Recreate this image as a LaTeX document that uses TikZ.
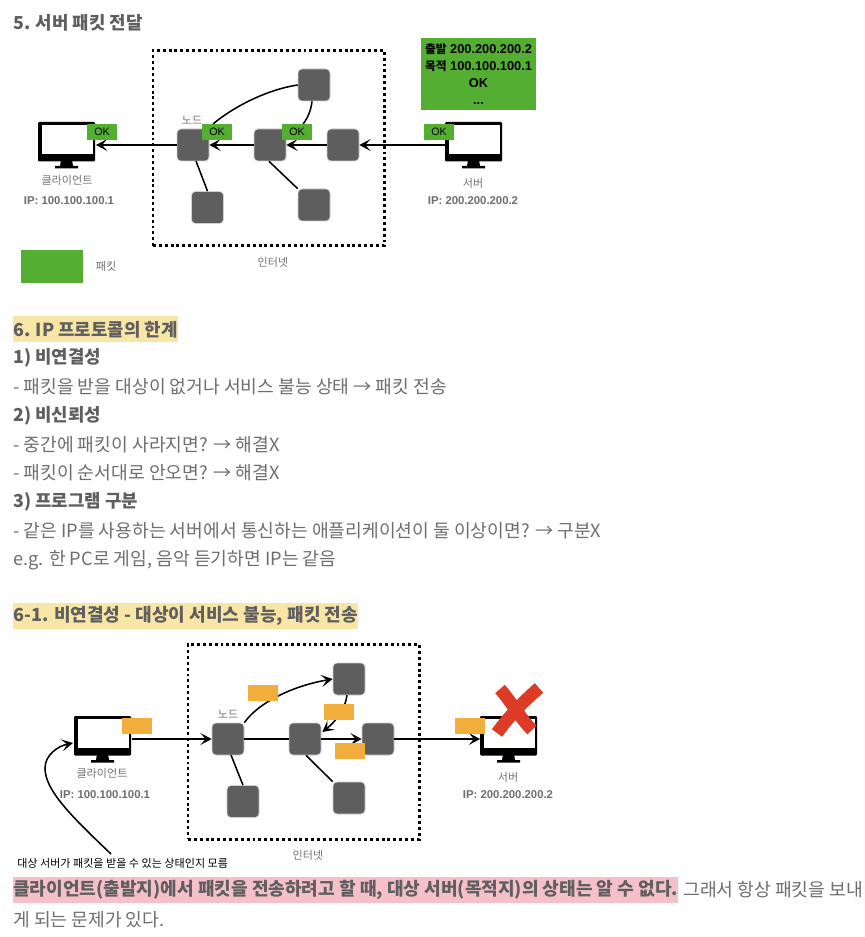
\documentclass[tikz,border=0pt]{standalone}
\usepackage{fontspec}
\setmainfont{Noto Sans CJK KR}
\newfontfamily\lat{Liberation Sans}
\newfontfamily\kr{Noto Sans CJK KR}
\usetikzlibrary{arrows.meta}
\definecolor{gtxt}{HTML}{5F5F5F}
\definecolor{btxt}{HTML}{6E6E6E}
\definecolor{nodeg}{HTML}{5E5E5E}
\definecolor{pgreen}{HTML}{53AE32}
\definecolor{porange}{HTML}{F2AE3B}
\definecolor{hyellow}{HTML}{F8E6A6}
\definecolor{hpink}{HTML}{F6C0CB}
\definecolor{xred}{HTML}{DC3B26}
\tikzset{
  x=0.75pt,y=-0.75pt,
  head/.style={anchor=west,inner sep=0pt,text=gtxt,font=\fontsize{13.4pt}{16pt}\selectfont\bfseries},
  heada/.style={anchor=west,inner sep=0pt,text=gtxt,font=\fontsize{13.55pt}{16pt}\selectfont\bfseries},
  body/.style={anchor=west,inner sep=0pt,text=btxt,font=\fontsize{13.65pt}{16pt}\selectfont},
  hl/.style={fill=#1,inner xsep=0pt,inner ysep=0pt,minimum height=19.5pt},
  net/.style={draw=white!70!nodeg,line width=0.5pt,fill=nodeg,rounded corners=3pt,minimum width=24pt,minimum height=24pt,inner sep=0pt},
  dotbox/.style={draw=black,line width=2.2pt,dash pattern=on 2.2pt off 2.2pt},
  pk/.style={fill=pgreen,minimum width=22.5pt,minimum height=12pt,inner sep=0pt,font=\lat\fontsize{8pt}{9pt}\selectfont,text=black},
  po/.style={fill=porange,minimum width=22.5pt,minimum height=12pt,inner sep=0pt},
  lab/.style={inner sep=0pt,text=gray!90!black,font=\fontsize{8.3pt}{9pt}\selectfont},
  ip/.style={inner sep=0pt,text=btxt,font=\lat\fontsize{8.5pt}{9pt}\selectfont\bfseries},
  link/.style={line width=1.15pt,draw=black},
  arr/.style={line width=1.15pt,draw=black,-{Stealth[length=8.5pt,width=9pt,inset=4pt]}},
  screen/.style={fill=white,minimum width=38.25pt,minimum height=21.5pt,inner sep=0pt},
}
% #1 name, #2 left x, #3 top y : monitor of 57x39 px with a stand
\newcommand{\mymonitor}[3]{
  \fill[black] (#2+23,#3+38) -- (#2+34,#3+38) -- (#2+35,#3+44) -- (#2+40,#3+44) -- (#2+40,#3+46.5) -- (#2+17,#3+46.5) -- (#2+17,#3+44) -- (#2+22,#3+44) -- cycle;
  \fill[black,rounded corners=0.8pt] (#2,#3) rectangle (#2+57,#3+39.5);
  \node[screen,anchor=north west] (#1) at (#2+3.5,#3+3) {};
  \coordinate (#1E) at (#2+58,#3+23);
  \coordinate (#1W) at (#2,#3+23);
}
\begin{document}
\begin{tikzpicture}
\useasboundingbox (0,0) rectangle (864,937);
\fill[white] (0,0) rectangle (864,937);
%%%%% Section 5
\node[head] (h5) at (13,23) {5. 서버 패킷 전달};
\node[dotbox,draw,minimum width=173.5pt,minimum height=146.5pt,inner sep=0pt,anchor=north west] (inet1) at (151.5,49) {};
\node[lab] (inetl1) at (273,262) {인터넷};
\node[net] (a1) at (193,145) {};
\node[net] (a2) at (270,145) {};
\node[net] (a3) at (343,145) {};
\node[net] (a4) at (314,85) {};
\node[net] (a5) at (207.5,207.5) {};
\node[net] (a6) at (314,205) {};
\node[lab] (nodel1) at (192,120) {노드};
\mymonitor{cli1}{38}{122}
\mymonitor{srv1}{445}{122}
\node[lab] (clil1) at (67,180) {클라이언트};
\node[ip] (clii1) at (69,201) {IP: 100.100.100.1};
\node[lab] (srvl1) at (473,183) {서버};
\node[ip] (srvi1) at (473,201) {IP: 200.200.200.2};
\draw[arr] (srv1W) -- (a3);
\draw[arr] (a3) -- (a2);
\draw[arr] (a2) -- (a1);
\draw[arr] (a1) -- (cli1E);
\draw[link] (a4.west) .. controls (265,90) and (232,108) .. (213,124);
\draw[link] (a4.south) ++(-2,0) .. controls (311,110) and (308,118) .. (303,124);
\draw[link] (196,161) -- (a5.north);
\draw[link] (a2.south) ++(-1,0) -- (a6.north west);
\node[pk] (ok1) at (102,132) {OK};
\node[pk] (ok2) at (217,132) {OK};
\node[pk] (ok3) at (297,132) {OK};
\node[pk] (ok4) at (439,132) {OK};
\node[fill=pgreen,minimum width=86.5pt,minimum height=54pt,inner sep=0pt,align=center,text=black,font=\lat\fontsize{9.6pt}{12.6pt}\selectfont\bfseries] (pkt) at (478.5,74) {{\kr\fontsize{8.8pt}{12.6pt}\selectfont\bfseries 출발} 200.200.200.2\\{\kr\fontsize{8.8pt}{12.6pt}\selectfont\bfseries 목적} 100.100.100.1\\OK\\...};
\node[fill=pgreen,minimum width=46.5pt,minimum height=24.5pt,inner sep=0pt] (leg) at (52,266.5) {};
\node[lab,text=btxt] (legl) at (106,266) {패킷};
%%%%% Section 6
\node[head,hl=hyellow] (h6) at (13,329.5) {6. IP 프로토콜의 한계};
\node[head] (t1) at (13,358) {1) 비연결성};
\node[body] (t2) at (13,387) {- 패킷을 받을 대상이 없거나 서비스 불능 상태 → 패킷 전송};
\node[head] (t3) at (13,416) {2) 비신뢰성};
\node[body] (t4) at (13,445) {- 중간에 패킷이 사라지면? → 해결X};
\node[body] (t5) at (13,473) {- 패킷이 순서대로 안오면? → 해결X};
\node[head] (t6) at (13,502) {3) 프로그램 구분};
\node[body] (t7) at (13,531) {- 같은 IP를 사용하는 서버에서 통신하는 애플리케이션이 둘 이상이면? → 구분X};
\node[body] (t8) at (13,560) {e.g. 한 PC로 게임, 음악 듣기하면 IP는 같음};
\node[heada,hl=hyellow] (h61) at (13,615.5) {6-1. 비연결성 - 대상이 서비스 불능, 패킷 전송};
%%%%% Section 6-1 diagram
\node[dotbox,draw,minimum width=173.5pt,minimum height=146pt,inner sep=0pt,anchor=north west] (inet2) at (186.5,643) {};
\node[lab] (inetl2) at (308,855) {인터넷};
\node[net] (b1) at (228,739) {};
\node[net] (b2) at (305,739) {};
\node[net] (b3) at (378,739) {};
\node[net] (b4) at (349,679) {};
\node[net] (b5) at (243,801.5) {};
\node[net] (b6) at (349,798) {};
\node[lab] (nodel2) at (228,714) {노드};
\mymonitor{cli2}{74}{716}
\mymonitor{srv2}{480}{716}
\node[lab] (clil2) at (102,773) {클라이언트};
\node[ip] (clii2) at (105,795) {IP: 100.100.100.1};
\node[lab] (srvl2) at (508,777) {서버};
\node[ip] (srvi2) at (508,795) {IP: 200.200.200.2};
\coordinate (b2t) at ([shift={(1,-7)}]b2.east);
\draw[arr] (cli2E) -- (b1);
\draw[link] (b1) -- (b2);
\draw[arr] (b2) -- (b3);
\draw[arr] (b3) -- (srv2W);
\draw[arr] (b1.north east) .. controls (258,703) and (292,686) .. (b4.west);
\draw[arr] (b4.south) ++(-2,0) .. controls (345,710) and (335,722) .. (b2t);
\draw[link] (231,755) -- (b5.north);
\draw[link] (b2.south) ++(1,0) -- (b6.north west);
\node[po] (p1) at (137,726) {};
\node[po] (p2) at (263,693) {};
\node[po] (p3) at (339,712) {};
\node[po] (p4) at (349.5,751) {};
\node[po] (p5) at (470,726) {};
\draw[xred,line width=9.5pt,line join=round] (500,689) .. controls (510,700) and (520,718) .. (532,730);
\draw[xred,line width=9.5pt,line join=round] (539,688) .. controls (525,700) and (510,715) .. (497,733);
\node[inner sep=0pt,text=black,anchor=west,font=\fontsize{8.3pt}{9pt}\selectfont] (note) at (17,863) {대상 서버가 패킷을 받을 수 있는 상태인지 모름};
\coordinate (notep) at (111,854);
\coordinate (mona) at (73,743);
\draw[arr] (notep) .. controls (70,815) and (45,790) .. (45,768) .. controls (45,755) and (58,746) .. (mona);
%%%%% closing text
\node[heada,hl=hpink] (c1) at (13,890) {클라이언트(출발지)에서 패킷을 전송하려고 할 때, 대상 서버(목적지)의 상태는 알 수 없다.};
\node[body] (c2) at (683,890) {그래서 항상 패킷을 보내};
\node[body] (c3) at (13,920) {게 되는 문제가 있다.};
\end{tikzpicture}
\end{document}
